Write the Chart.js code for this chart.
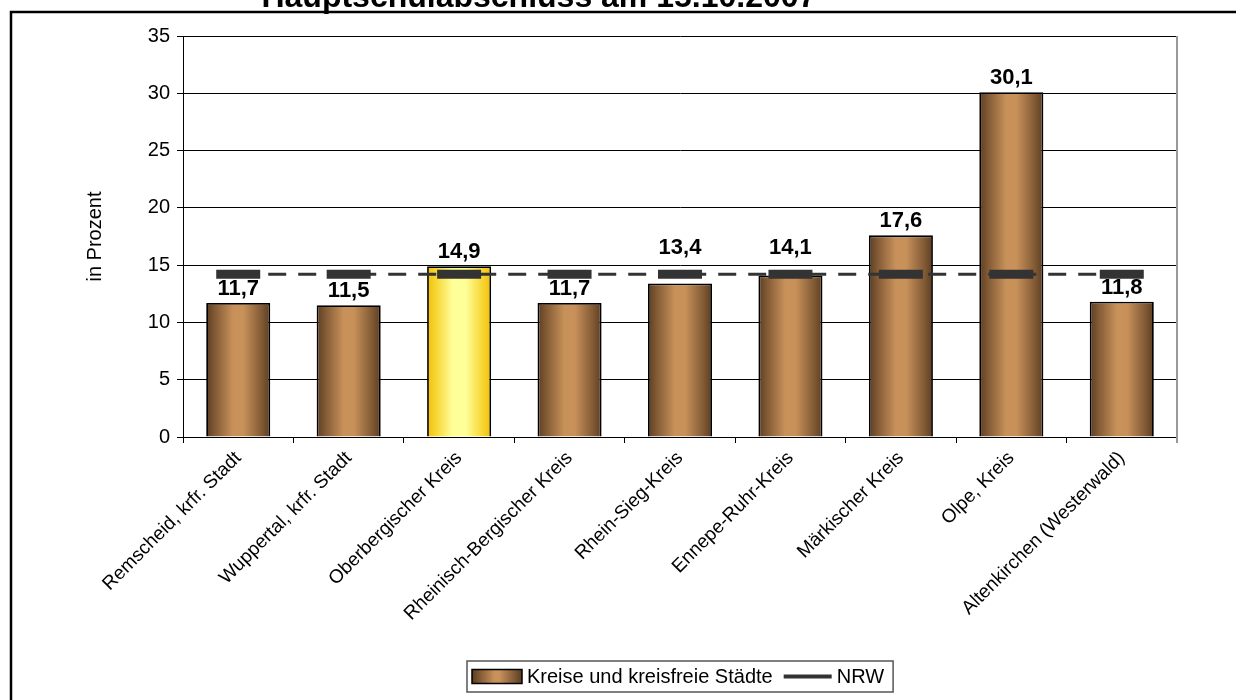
<!DOCTYPE html>
<html>
<head>
<meta charset="utf-8">
<script src="https://cdn.jsdelivr.net/npm/chart.js@4/dist/chart.umd.min.js"></script>
<style>
  html, body { margin: 0; padding: 0; background: #fff; overflow: hidden; }
  #wrap { width: 1236px; height: 700px; }
</style>
</head>
<body>
<div id="wrap"><canvas id="chart" width="1236" height="700"></canvas></div>
<script>
const categories = [
  "Remscheid, krfr. Stadt",
  "Wuppertal, krfr. Stadt",
  "Oberbergischer Kreis",
  "Rheinisch-Bergischer Kreis",
  "Rhein-Sieg-Kreis",
  "Ennepe-Ruhr-Kreis",
  "Märkischer Kreis",
  "Olpe, Kreis",
  "Altenkirchen (Westerwald)",
];
const kreise = [11.7, 11.5, 14.9, 11.7, 13.4, 14.1, 17.6, 30.1, 11.8];
const nrw = [14.2, 14.2, 14.2, 14.2, 14.2, 14.2, 14.2, 14.2, 14.2];
const yTicks = [0, 5, 10, 15, 20, 25, 30, 35];
const highlight = "Oberbergischer Kreis";
const titleText = "Hauptschulabschluss am 15.10.2007";

const FONT = '"Liberation Sans", Arial, sans-serif';
Chart.defaults.font.family = FONT;
Chart.defaults.color = "#000";

const barPct = 0.58;

// horizontal "cylinder" shading for each bar
function barFill(c) {
  const chart = c.chart;
  const xs = chart.scales.x;
  if (!chart.chartArea || !xs || c.type !== "data") return "#c8915a";
  const cx = xs.getPixelForValue(c.dataIndex);
  const half = (xs.width / categories.length) * barPct / 2;
  const g = chart.ctx.createLinearGradient(cx - half, 0, cx + half, 0);
  if (categories[c.dataIndex] === highlight) {
    g.addColorStop(0, "#f2c000");
    g.addColorStop(0.4, "#ffff99");
    g.addColorStop(0.6, "#ffff99");
    g.addColorStop(1, "#f2c000");
  } else {
    g.addColorStop(0, "#5a3d22");
    g.addColorStop(0.12, "#7e5733");
    g.addColorStop(0.42, "#c8915a");
    g.addColorStop(0.58, "#c8915a");
    g.addColorStop(0.88, "#7e5733");
    g.addColorStop(1, "#5a3d22");
  }
  return g;
}

const framePlugin = {
  id: "frame",
  beforeDraw(chart) {
    const { ctx, width, height } = chart;
    ctx.save();
    ctx.fillStyle = "#fff";
    ctx.fillRect(0, 0, width, height);
    ctx.lineWidth = 2.5;
    ctx.strokeStyle = "#000";
    ctx.strokeRect(11, 12, width + 10, height + 10);
    ctx.restore();
  },
  afterDraw(chart) {
    const { ctx, chartArea } = chart;
    ctx.save();
    // plot area right border
    ctx.strokeStyle = "#999";
    ctx.lineWidth = 2;
    ctx.beginPath();
    ctx.moveTo(chartArea.right, chartArea.top);
    ctx.lineTo(chartArea.right, chartArea.bottom + 6);
    ctx.stroke();
    // cut-off title
    ctx.fillStyle = "#000";
    ctx.font = "bold 32px " + FONT;
    ctx.textAlign = "center";
    ctx.textBaseline = "alphabetic";
    ctx.fillText(titleText, chart.width * 0.436, 7);
    ctx.restore();
  },
};

// value labels above bars; pushed above the NRW marker when they would collide
const valueLabels = {
  id: "valueLabels",
  afterDatasetsDraw(chart) {
    const { ctx } = chart;
    const bars = chart.getDatasetMeta(1).data;
    const marks = chart.getDatasetMeta(0).data;
    ctx.save();
    ctx.font = "bold 22px " + FONT;
    ctx.fillStyle = "#000";
    ctx.textAlign = "center";
    ctx.textBaseline = "alphabetic";
    bars.forEach((bar, i) => {
      let base = bar.y - 8;
      const my = marks[i] ? marks[i].y : -1000;
      if (base > my - 12 && base < my + 16) base = my - 20;
      ctx.fillText(kreise[i].toFixed(1).replace(".", ","), bar.x, base);
    });
    ctx.restore();
  },
};

const boxLegend = {
  id: "boxLegend",
  afterDraw(chart) {
    const { ctx, chartArea } = chart;
    const t1 = "Kreise und kreisfreie Städte";
    const t2 = "NRW";
    ctx.save();
    ctx.font = "20px " + FONT;
    const w1 = ctx.measureText(t1).width;
    const w2 = ctx.measureText(t2).width;
    const boxW = 50, boxH = 14, lineW = 48;
    const total = 5 + boxW + 5 + w1 + 11 + lineW + 5 + w2 + 9;
    const left = Math.round((chartArea.left + chartArea.right) / 2 - total / 2);
    const top = chart.height - 39;
    const h = 31;
    const mid = top + h / 2;
    ctx.fillStyle = "#fff";
    ctx.fillRect(left, top, total, h);
    ctx.strokeStyle = "#555";
    ctx.lineWidth = 1.5;
    ctx.strokeRect(left, top, total, h);
    // bar swatch
    let x = left + 5;
    const g = ctx.createLinearGradient(x, 0, x + boxW, 0);
    g.addColorStop(0, "#5a3d22");
    g.addColorStop(0.45, "#c8915a");
    g.addColorStop(0.55, "#c8915a");
    g.addColorStop(1, "#5a3d22");
    ctx.fillStyle = g;
    ctx.fillRect(x, mid - boxH / 2, boxW, boxH);
    ctx.strokeStyle = "#000";
    ctx.lineWidth = 1.5;
    ctx.strokeRect(x, mid - boxH / 2, boxW, boxH);
    x += boxW + 5;
    ctx.fillStyle = "#000";
    ctx.textBaseline = "middle";
    ctx.fillText(t1, x, mid + 1);
    x += w1 + 11;
    ctx.strokeStyle = "#333";
    ctx.lineWidth = 4;
    ctx.beginPath();
    ctx.moveTo(x, mid);
    ctx.lineTo(x + lineW, mid);
    ctx.stroke();
    x += lineW + 5;
    ctx.fillText(t2, x, mid + 1);
    ctx.restore();
  },
};

new Chart(document.getElementById("chart"), {
  type: "bar",
  data: {
    labels: categories,
    datasets: [
      {
        type: "line",
        label: "NRW",
        data: nrw,
        order: 0,
        borderColor: "#333",
        borderWidth: 3,
        borderDash: [18, 12],
        pointStyle: "line",
        pointRadius: 22,
        pointBorderWidth: 9,
        pointBorderColor: "#333",
        pointBackgroundColor: "#333",
        fill: false,
      },
      {
        label: "Kreise und kreisfreie Städte",
        data: kreise,
        order: 1,
        backgroundColor: barFill,
        borderColor: "#000",
        borderWidth: 1.8,
        barPercentage: barPct,
        categoryPercentage: 1,
      },
    ],
  },
  options: {
    responsive: false,
    animation: false,
    devicePixelRatio: 1,
    layout: { padding: { left: 12, top: 36, right: 59, bottom: 63 } },
    plugins: {
      legend: { display: false },
      tooltip: { enabled: false },
      title: { display: false },
    },
    scales: {
      x: {
        grid: { offset: true, drawOnChartArea: false, tickLength: 6, color: "#000" },
        border: { color: "#000", width: 1 },
        ticks: {
          autoSkip: false,
          maxRotation: 45,
          minRotation: 45,
          font: { size: 19 },
          color: "#000",
          padding: 4,
        },
        afterFit(scale) {
          scale.height = 200;
        },
      },
      y: {
        min: 0,
        max: 35,
        afterBuildTicks(scale) {
          scale.ticks = yTicks.map((v) => ({ value: v }));
        },
        grid: { color: "#000", lineWidth: 1, tickLength: 6 },
        border: { color: "#000", width: 1 },
        ticks: { font: { size: 20 }, color: "#000", padding: 7 },
        title: {
          display: true,
          text: "in Prozent",
          font: { size: 20 },
          padding: { top: 71, bottom: 0 },
        },
        afterFit(scale) {
          scale.width = 171;
        },
      },
    },
  },
  plugins: [framePlugin, valueLabels, boxLegend],
});
</script>
</body>
</html>
